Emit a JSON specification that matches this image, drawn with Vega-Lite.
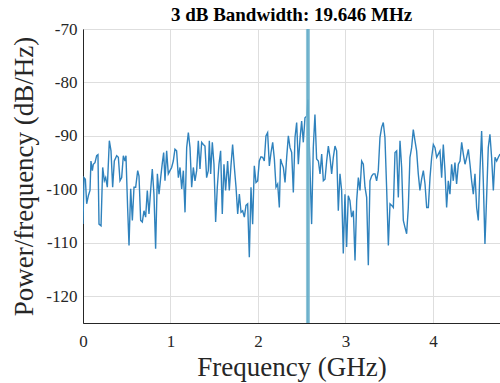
{
  "$schema": "https://vega.github.io/schema/vega-lite/v6.json",
  "autosize": "none",
  "width": 417,
  "height": 294,
  "padding": {"left": 83, "top": 29, "right": 0, "bottom": 60},
  "background": "white",
  "title": {"text": "3 dB Bandwidth: 19.646 MHz", "font": "Liberation Serif", "fontSize": 19, "fontWeight": "bold", "color": "#000000", "offset": -5, "anchor": "middle"},
  "config": {
    "view": {"stroke": "#4d4d4d", "strokeWidth": 1},
    "axis": {
      "labelFont": "Liberation Serif", "labelFontSize": 17, "labelColor": "#262626",
      "titleFont": "Liberation Serif", "titleFontSize": 27, "titleFontWeight": "normal", "titleColor": "#262626",
      "gridColor": "#dedede", "gridWidth": 1, "domainColor": "#262626", "ticks": false,
      "labelExpr": "'' + datum.value", "labelFlush": false
    }
  },
  "datasets": {
    "psd": [
      {"f":0.000,"p":-106.5},{"f":0.011,"p":-97.8},{"f":0.027,"p":-98.1},{"f":0.042,"p":-102.7},{"f":0.061,"p":-101.2},{"f":0.080,"p":-100.2},{"f":0.091,"p":-94.7},{"f":0.107,"p":-96.5},{"f":0.118,"p":-95.3},{"f":0.137,"p":-95.0},{"f":0.156,"p":-93.7},{"f":0.171,"p":-93.5},{"f":0.183,"p":-106.5},{"f":0.206,"p":-106.8},{"f":0.225,"p":-95.9},{"f":0.244,"p":-98.4},{"f":0.259,"p":-97.8},{"f":0.278,"p":-99.6},{"f":0.301,"p":-90.9},{"f":0.320,"p":-92.8},{"f":0.339,"p":-99.6},{"f":0.358,"p":-94.7},{"f":0.385,"p":-93.7},{"f":0.404,"p":-94.0},{"f":0.423,"p":-98.4},{"f":0.442,"p":-97.8},{"f":0.461,"p":-93.7},{"f":0.480,"p":-94.7},{"f":0.491,"p":-93.7},{"f":0.510,"p":-103.4},{"f":0.526,"p":-110.5},{"f":0.545,"p":-99.9},{"f":0.564,"p":-105.8},{"f":0.583,"p":-99.6},{"f":0.602,"p":-99.6},{"f":0.625,"p":-96.5},{"f":0.640,"p":-97.5},{"f":0.659,"p":-105.8},{"f":0.678,"p":-106.1},{"f":0.697,"p":-104.0},{"f":0.716,"p":-105.2},{"f":0.735,"p":-100.2},{"f":0.754,"p":-104.6},{"f":0.773,"p":-100.2},{"f":0.792,"p":-96.2},{"f":0.811,"p":-100.9},{"f":0.830,"p":-111.1},{"f":0.850,"p":-97.1},{"f":0.869,"p":-100.9},{"f":0.888,"p":-97.8},{"f":0.907,"p":-95.0},{"f":0.922,"p":-93.1},{"f":0.937,"p":-98.4},{"f":0.956,"p":-92.8},{"f":0.975,"p":-97.1},{"f":0.994,"p":-96.5},{"f":1.013,"p":-95.9},{"f":1.032,"p":-94.7},{"f":1.051,"p":-92.5},{"f":1.070,"p":-92.8},{"f":1.090,"p":-97.8},{"f":1.109,"p":-95.9},{"f":1.128,"p":-99.9},{"f":1.147,"p":-96.5},{"f":1.166,"p":-104.3},{"f":1.185,"p":-92.2},{"f":1.204,"p":-89.4},{"f":1.223,"p":-92.2},{"f":1.242,"p":-99.6},{"f":1.261,"p":-95.9},{"f":1.280,"p":-98.4},{"f":1.299,"p":-96.5},{"f":1.318,"p":-90.9},{"f":1.337,"p":-96.2},{"f":1.356,"p":-91.2},{"f":1.375,"p":-91.6},{"f":1.394,"p":-91.9},{"f":1.413,"p":-97.8},{"f":1.432,"p":-96.5},{"f":1.444,"p":-90.9},{"f":1.459,"p":-97.1},{"f":1.478,"p":-91.2},{"f":1.497,"p":-95.3},{"f":1.516,"p":-106.1},{"f":1.535,"p":-99.6},{"f":1.554,"p":-95.3},{"f":1.573,"p":-92.8},{"f":1.592,"p":-104.6},{"f":1.611,"p":-95.3},{"f":1.630,"p":-100.2},{"f":1.653,"p":-94.7},{"f":1.672,"p":-100.2},{"f":1.691,"p":-95.6},{"f":1.710,"p":-91.6},{"f":1.730,"p":-95.9},{"f":1.749,"p":-99.6},{"f":1.768,"p":-104.6},{"f":1.787,"p":-100.9},{"f":1.806,"p":-104.3},{"f":1.825,"p":-104.0},{"f":1.844,"p":-105.2},{"f":1.863,"p":-103.0},{"f":1.882,"p":-102.7},{"f":1.901,"p":-112.7},{"f":1.920,"p":-99.6},{"f":1.939,"p":-106.5},{"f":1.958,"p":-95.6},{"f":1.977,"p":-98.7},{"f":1.996,"p":-98.4},{"f":2.015,"p":-94.7},{"f":2.034,"p":-93.9},{"f":2.053,"p":-94.0},{"f":2.072,"p":-94.7},{"f":2.091,"p":-90.0},{"f":2.110,"p":-89.4},{"f":2.130,"p":-95.6},{"f":2.149,"p":-93.1},{"f":2.168,"p":-91.2},{"f":2.187,"p":-94.3},{"f":2.206,"p":-99.6},{"f":2.225,"p":-99.0},{"f":2.244,"p":-103.4},
      {"f":2.258,"p":-94.3},{"f":2.270,"p":-95.0},{"f":2.290,"p":-95.9},{"f":2.309,"p":-98.7},{"f":2.328,"p":-94.0},{"f":2.347,"p":-90.0},{"f":2.366,"p":-92.2},{"f":2.385,"p":-93.1},{"f":2.404,"p":-100.6},{"f":2.423,"p":-90.3},{"f":2.442,"p":-87.5},{"f":2.461,"p":-95.3},{"f":2.480,"p":-90.6},{"f":2.499,"p":-87.2},{"f":2.518,"p":-91.2},{"f":2.537,"p":-86.6},{"f":2.556,"p":-86.3},{"f":2.571,"p":-83.2},{"f":2.613,"p":-106.5},{"f":2.632,"p":-92.2},{"f":2.651,"p":-86.0},{"f":2.670,"p":-94.3},{"f":2.690,"p":-94.7},{"f":2.709,"p":-97.1},{"f":2.728,"p":-93.4},{"f":2.747,"p":-98.4},{"f":2.766,"p":-98.1},{"f":2.785,"p":-94.7},{"f":2.804,"p":-91.9},{"f":2.823,"p":-94.0},{"f":2.842,"p":-97.1},{"f":2.861,"p":-94.0},{"f":2.880,"p":-91.9},{"f":2.899,"p":-92.8},{"f":2.918,"p":-104.0},{"f":2.937,"p":-97.1},{"f":2.956,"p":-100.2},{"f":2.975,"p":-112.0},{"f":2.994,"p":-100.9},{"f":3.013,"p":-110.8},{"f":3.032,"p":-101.2},{"f":3.051,"p":-102.1},{"f":3.070,"p":-105.2},{"f":3.090,"p":-104.0},{"f":3.109,"p":-113.3},{"f":3.128,"p":-102.1},{"f":3.147,"p":-97.8},{"f":3.166,"p":-100.2},{"f":3.185,"p":-94.7},{"f":3.204,"p":-95.3},{"f":3.223,"p":-99.6},{"f":3.242,"p":-101.5},{"f":3.261,"p":-114.2},{"f":3.280,"p":-98.4},{"f":3.299,"p":-97.5},{"f":3.318,"p":-97.1},{"f":3.337,"p":-97.1},{"f":3.356,"p":-98.4},{"f":3.375,"p":-96.5},{"f":3.394,"p":-90.3},{"f":3.413,"p":-88.4},{"f":3.432,"p":-87.5},{"f":3.451,"p":-90.3},{"f":3.470,"p":-99.6},{"f":3.490,"p":-110.5},{"f":3.509,"p":-102.7},{"f":3.528,"p":-103.0},{"f":3.547,"p":-103.4},{"f":3.566,"p":-93.1},{"f":3.585,"p":-92.8},{"f":3.604,"p":-101.5},{"f":3.623,"p":-90.9},{"f":3.642,"p":-95.9},{"f":3.661,"p":-105.8},{"f":3.680,"p":-107.1},{"f":3.699,"p":-108.3},{"f":3.718,"p":-103.4},{"f":3.737,"p":-94.0},{"f":3.756,"p":-92.2},{"f":3.775,"p":-88.8},{"f":3.794,"p":-90.9},{"f":3.813,"p":-92.8},{"f":3.832,"p":-97.1},{"f":3.851,"p":-100.2},{"f":3.870,"p":-98.1},{"f":3.890,"p":-96.5},{"f":3.909,"p":-99.0},{"f":3.928,"p":-103.4},{"f":3.947,"p":-103.4},{"f":3.966,"p":-97.8},{"f":3.985,"p":-94.0},{"f":4.004,"p":-91.6},{"f":4.023,"p":-92.2},{"f":4.042,"p":-94.0},{"f":4.061,"p":-93.4},{"f":4.080,"p":-92.8},{"f":4.099,"p":-97.8},{"f":4.118,"p":-91.6},{"f":4.137,"p":-96.5},{"f":4.156,"p":-103.4},{"f":4.175,"p":-98.4},{"f":4.194,"p":-100.9},{"f":4.213,"p":-95.3},{"f":4.232,"p":-98.4},{"f":4.251,"p":-95.0},{"f":4.270,"p":-99.0},{"f":4.290,"p":-95.3},{"f":4.309,"p":-94.7},{"f":4.328,"p":-91.2},{"f":4.347,"p":-93.4},{"f":4.366,"p":-95.3},{"f":4.385,"p":-94.0},{"f":4.404,"p":-92.5},{"f":4.423,"p":-95.3},{"f":4.442,"p":-98.4},{"f":4.461,"p":-100.9},{"f":4.480,"p":-97.1},{"f":4.499,"p":-103.4},{"f":4.518,"p":-105.8},{"f":4.537,"p":-96.5},{"f":4.556,"p":-89.1},{"f":4.575,"p":-98.4},{"f":4.594,"p":-110.2},{"f":4.613,"p":-101.5},{"f":4.632,"p":-92.2},{"f":4.651,"p":-89.7},{"f":4.670,"p":-94.0},{"f":4.690,"p":-100.2},{"f":4.709,"p":-94.0},{"f":4.728,"p":-94.7},{"f":4.747,"p":-94.0},{"f":4.766,"p":-93.4}
    ],
    "band": [{"f": 2.571}]
  },
  "layer": [
    {
      "data": {"name": "psd"},
      "mark": {"type": "line", "color": "#2f82bd", "strokeWidth": 1.4, "clip": true},
      "encoding": {
        "x": {"field": "f", "type": "quantitative", "scale": {"domain": [0, 4.766], "nice": false}, "axis": {"title": "Frequency (GHz)", "values": [0, 1, 2, 3, 4], "labelPadding": 10, "titlePadding": 5, "grid": true}},
        "y": {"field": "p", "type": "quantitative", "scale": {"domain": [-125, -70], "nice": false}, "axis": {"title": "Power/frequency (dB/Hz)", "values": [-120, -110, -100, -90, -80, -70], "labelPadding": 6, "titlePadding": 7, "grid": true}}
      }
    },
    {
      "data": {"name": "band"},
      "mark": {"type": "rule", "color": "#7fbcd2", "strokeWidth": 4, "opacity": 0.85},
      "encoding": {"x": {"field": "f", "type": "quantitative"}}
    },
    {
      "data": {"name": "band"},
      "mark": {"type": "rule", "color": "#4f9fc0", "strokeWidth": 1},
      "encoding": {"x": {"field": "f", "type": "quantitative"}}
    }
  ]
}
